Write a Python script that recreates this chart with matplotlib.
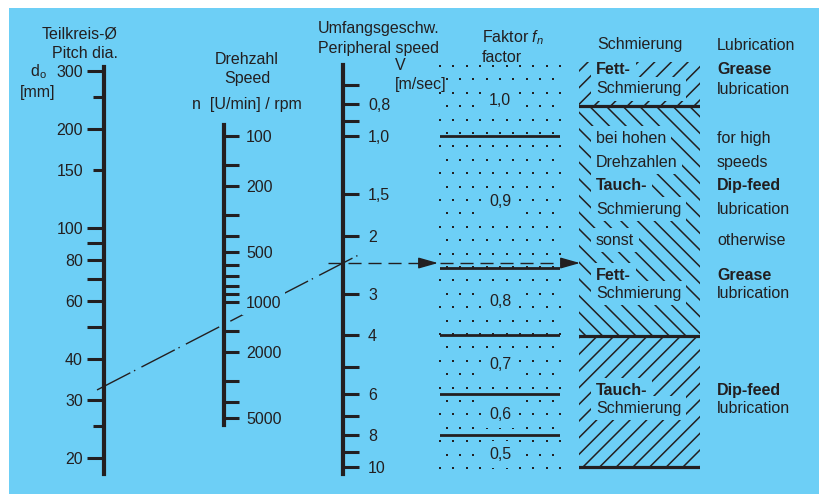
import matplotlib
matplotlib.use('Agg')
import matplotlib.pyplot as plt
import matplotlib.transforms as mtransforms
import numpy as np

# scale values
d_major = [300, 200, 100, 90, 80, 70, 60, 50, 40, 30, 20]
d_minor = [250, 150, 25]
d_labeled = [300, 200, 150, 100, 80, 60, 40, 30, 20]

n_ticks = [100, 150, 200, 300, 400, 500, 600, 700, 800, 900,
           1000, 1500, 2000, 3000, 4000, 5000]
n_labeled = [100, 200, 500, 1000, 2000, 5000]

v_ticks = [0.7, 0.8, 0.9, 1.0, 1.5, 2, 3, 4, 5, 6, 7, 8, 9, 10]
v_labeled = [0.8, 1.0, 1.5, 2, 3, 4, 6, 8, 10]

fn_edges = [1.0, 2.5, 4, 6, 8]
fn_values = ['1,0', '0,9', '0,8', '0,7', '0,6', '0,5']

lub_edges = [0.8, 4, 10]
lub_hatch = ['//', '\\\\', '//']

lub_de = [('Fett-', True), ('Schmierung', False), ('bei hohen', False),
          ('Drehzahlen', False), ('Tauch-', True), ('Schmierung', False),
          ('sonst', False), ('Fett-', True), ('Schmierung', False),
          ('Tauch-', True), ('Schmierung', False)]
lub_en = [('Grease', True), ('lubrication', False), ('for high', False),
          ('speeds', False), ('Dip-feed', True), ('lubrication', False),
          ('otherwise', False), ('Grease', True), ('lubrication', False),
          ('Dip-feed', True), ('lubrication', False)]

# worked example: d = 33 mm, n = 1400 rpm
d_ex = 33
n_ex = 1400
v_ex = np.pi * d_ex * n_ex / 60000

BLUE = '#6dcff6'
INK = '#231f20'
W, H = 820, 494

plt.rcParams['font.family'] = ['Liberation Sans', 'DejaVu Sans']
plt.rcParams['font.size'] = 11.5
plt.rcParams['mathtext.fontset'] = 'custom'
plt.rcParams['mathtext.rm'] = 'Liberation Sans'
plt.rcParams['mathtext.it'] = 'Liberation Sans:italic'
plt.rcParams['hatch.linewidth'] = 1.1
plt.rcParams['text.color'] = INK

fig = plt.figure(figsize=(W / 100, H / 100), dpi=100)


def px_axes(x0, y0, x1, y1, zorder=1, **kw):
    return fig.add_axes([x0 / W, 1 - y1 / H, (x1 - x0) / W, (y1 - y0) / H],
                        zorder=zorder, **kw)


def scale_axis(x, y0, y1, lims, side):
    ax = px_axes(x, y0, x + 0.05, y1)
    ax.set_yscale('log')
    ax.set_ylim(*lims)
    ax.patch.set_visible(False)
    ax.xaxis.set_visible(False)
    for s in ax.spines.values():
        s.set_visible(False)
    ax.spines[side].set_visible(True)
    ax.spines[side].set_linewidth(3)
    ax.spines[side].set_color(INK)
    ax.yaxis.set_ticks_position(side)
    return ax


bg = px_axes(0, 0, W, H, zorder=0)
bg.set_xlim(0, W)
bg.set_ylim(H, 0)
bg.axis('off')
bg.add_patch(plt.Rectangle((9, 8), W - 9, H - 8, fc=BLUE, ec='none'))

# pitch diameter scale
d_ax = scale_axis(104, 67, 474, (17.87, 308.5), 'left')
d_ax.set_yticks(d_major, [str(v) if v in d_labeled else '' for v in d_major])
d_ax.set_yticks(d_minor, [str(v) if v in d_labeled else '' for v in d_minor], minor=True)
d_ax.tick_params(axis='y', which='major', direction='out', length=12.2, width=2.2,
                 color=INK, pad=3, labelsize=11.5, labelcolor=INK)
d_ax.tick_params(axis='y', which='minor', direction='out', length=8, width=2.2,
                 color=INK, pad=7.2, labelsize=11.5, labelcolor=INK)

# speed scale
n_ax = scale_axis(224, 125, 425, (5508, 85.86), 'right')
n_ax.set_yticks(n_ticks, [str(v) if v in n_labeled else '' for v in n_ticks])
n_ax.set_yticks([], minor=True)
n_ax.tick_params(axis='y', which='major', direction='out', length=10.8, width=2.2,
                 color=INK, pad=5, labelsize=11.5, labelcolor=INK)
for t in n_ax.yaxis.get_major_ticks():
    t.label2.set_bbox(dict(boxstyle='square,pad=0.25', fc=BLUE, ec='none'))

# peripheral speed scale
v_lims = (10.49, 0.6103)
v_ax = scale_axis(343, 65, 474, v_lims, 'right')


def v_fmt(v):
    return f'{v:.1f}'.replace('.', ',') if v < 2 else str(int(v))


v_ax.set_yticks(v_ticks, [v_fmt(v) if v in v_labeled else '' for v in v_ticks])
v_ax.set_yticks([], minor=True)
v_ax.tick_params(axis='y', which='major', direction='out', length=11.5, width=2.2,
                 color=INK, pad=6.5, labelsize=11.5, labelcolor=INK)

# factor column
f_ax = px_axes(440, 65, 560, 474, sharey=v_ax)
f_ax.set_xlim(0, 1)
f_ax.axis('off')
f_ax.patch.set_visible(False)
rows = np.arange(66, 470, 13.4)
for i, yy in enumerate(rows):
    xs = np.arange(440, 561, 13.33) if i % 2 == 0 else np.arange(446.7, 555, 13.33)
    f_ax.scatter(xs, np.full(len(xs), yy), s=1.2, marker='s', color=INK,
                 linewidths=0, transform=bg.transData, clip_on=False)
for v in fn_edges:
    f_ax.axhline(v, color=INK, lw=2)
bounds = [v_lims[1]] + fn_edges + [v_lims[0]]
for lo, hi, lab in zip(bounds[:-1], bounds[1:], fn_values):
    f_ax.text(0.5, np.sqrt(lo * hi), lab, ha='center', va='center', fontsize=11.5,
              bbox=dict(boxstyle='square,pad=0.4', fc=BLUE, ec='none'))

# lubrication column
l_ax = px_axes(579, 62, 700, 474)
l_ax.set_yscale('log')
l_ax.set_ylim(v_lims[0], 0.59)
l_ax.set_xlim(0, 1)
l_ax.axis('off')
l_ax.patch.set_visible(False)
zones = [0.59] + lub_edges
for lo, hi, h in zip(zones[:-1], zones[1:], lub_hatch):
    l_ax.axhspan(lo, hi, fc='none', ec=INK, lw=0, hatch=h)
for v in lub_edges:
    l_ax.axhline(v, color=INK, lw=2.3)

# worked example: dash-dot line and arrows
inv = bg.transData.inverted()
(x1, y1), (x2, y2) = inv.transform([d_ax.transData.transform((0, d_ex)),
                                     v_ax.transData.transform((0, v_ex))])
k = (y2 - y1) / (x2 - x1)
bg.plot([x1 - 7, x2 + 15], [y1 - 7 * k, y2 + 15 * k], color=INK, lw=1,
        dashes=[27, 3, 1, 5])

blend = mtransforms.blended_transform_factory(bg.transData, v_ax.transData)
arrow = dict(arrowstyle='-|>,head_length=12,head_width=3.4', mutation_scale=1,
             color=INK, lw=1, shrinkA=0, shrinkB=0)
bg.plot([328, 424], [v_ex, v_ex], transform=blend, color=INK, lw=1, dashes=[9.4, 5])
bg.annotate('', xy=(438, v_ex), xytext=(420, v_ex), xycoords=blend,
            textcoords=blend, arrowprops=arrow)
bg.plot([440, 567], [v_ex, v_ex], transform=blend, color=INK, lw=1, dashes=[9.4, 5])
bg.annotate('', xy=(580, v_ex), xytext=(562, v_ex), xycoords=blend,
            textcoords=blend, arrowprops=arrow)

# text layer
tx = px_axes(0, 0, W, H, zorder=5)
tx.set_xlim(0, W)
tx.set_ylim(H, 0)
tx.axis('off')
tx.patch.set_visible(False)

tx.text(118, 34, 'Teilkreis-Ø', ha='right', va='center')
tx.text(118, 53, 'Pitch dia.', ha='right', va='center')
tx.text(30, 72, r'd$_{\rm o}$', ha='left', va='center')
tx.text(20, 92, '[mm]', ha='left', va='center')
tx.text(247, 59, 'Drehzahl', ha='center', va='center')
tx.text(247, 78, 'Speed', ha='center', va='center')
tx.text(247, 104, 'n  [U/min] / rpm', ha='center', va='center')
tx.text(318, 28, 'Umfangsgeschw.', ha='left', va='center')
tx.text(318, 48, 'Peripheral speed', ha='left', va='center')
tx.text(400, 66, 'V', ha='center', va='center')
tx.text(395, 85, '[m/sec]', ha='left', va='center')
tx.text(482, 38, r'Faktor $f_n$', ha='left', va='center')
tx.text(482, 57, 'factor', ha='left', va='center')
tx.text(640, 45, 'Schmierung', ha='center', va='center')
tx.text(717, 45, 'Lubrication', ha='left', va='center')

rows_y = [70, 89, 138, 162, 185, 209, 240, 275, 293, 390, 408]
for yy, (s, b) in zip(rows_y, lub_de):
    tx.text(596, yy, s, ha='left', va='center', weight='bold' if b else 'normal',
            bbox=dict(boxstyle='square,pad=0.3', fc=BLUE, ec='none'))
for yy, (s, b) in zip(rows_y, lub_en):
    tx.text(717, yy, s, ha='left', va='center', weight='bold' if b else 'normal')

fig.savefig('out.png', dpi=100)
